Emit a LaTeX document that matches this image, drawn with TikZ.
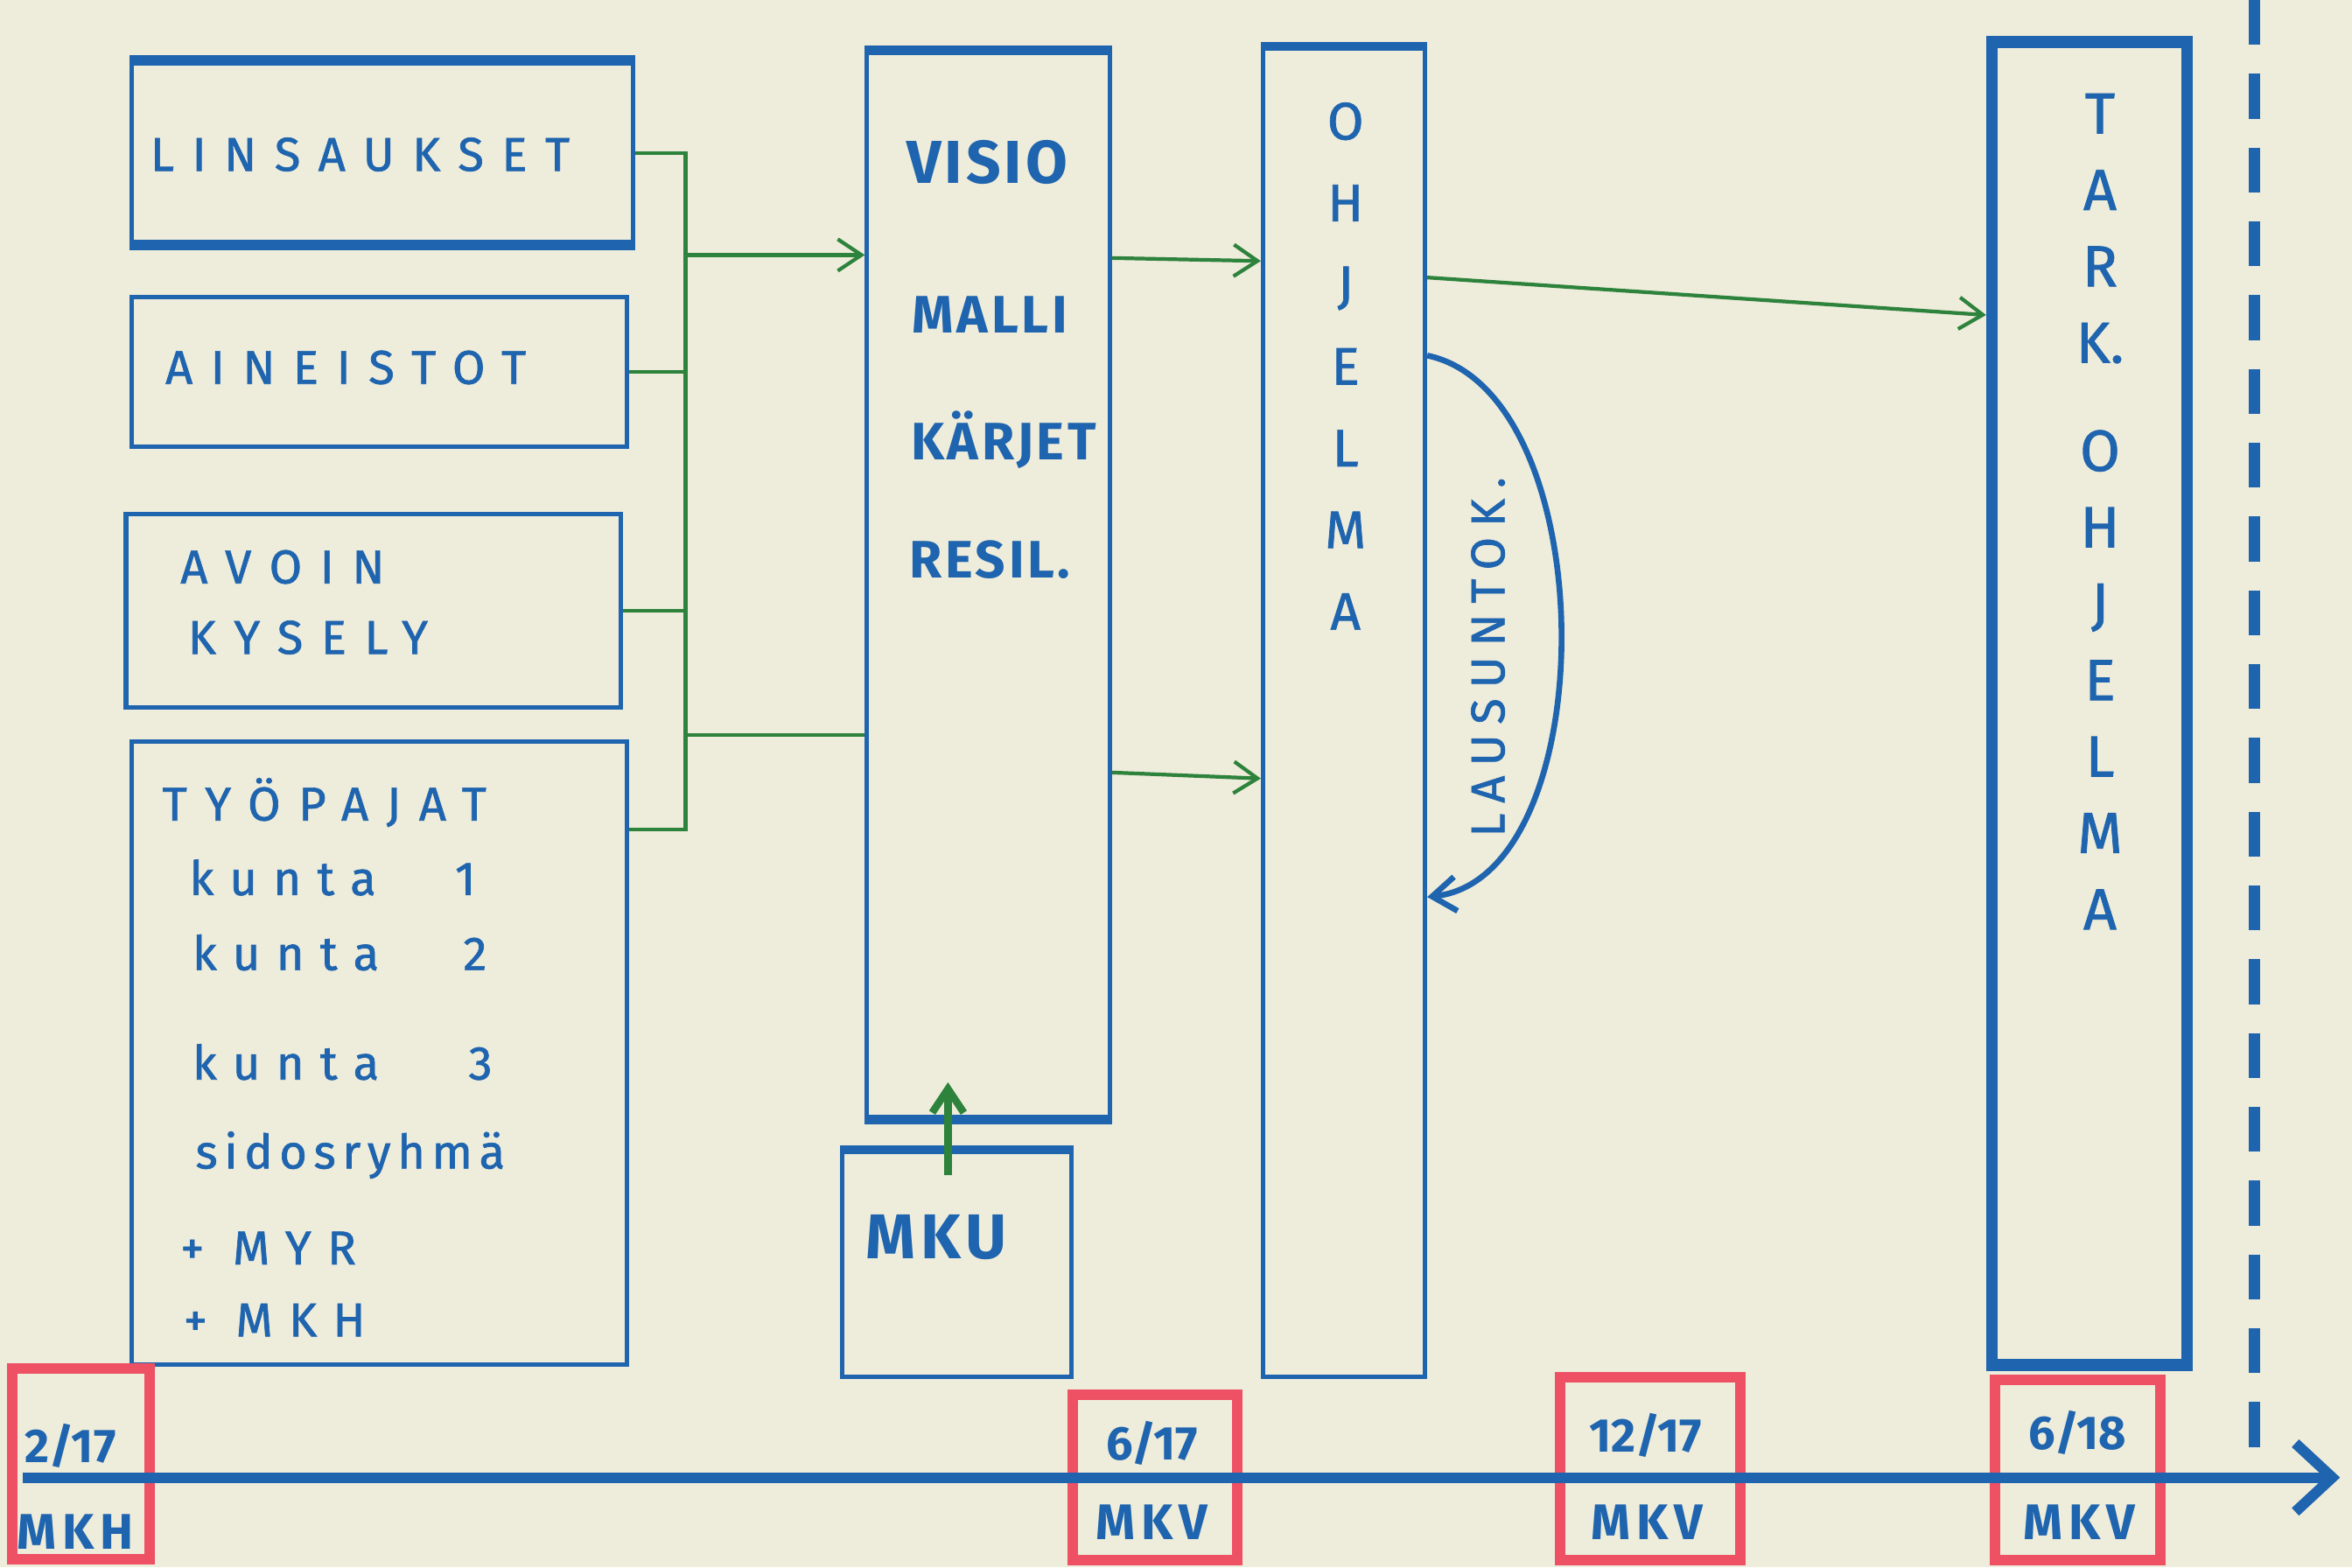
\documentclass[tikz,border=0pt]{standalone}
\usepackage{fontspec}
\setmainfont{Fira Sans}
\usetikzlibrary{arrows.meta}
\definecolor{paper}{RGB}{238,236,218}
\definecolor{pen}{RGB}{30,100,175}
\definecolor{grpen}{RGB}{45,130,60}
\definecolor{redpen}{RGB}{238,80,100}
\tikzset{box/.style = {shape = rectangle, draw = pen, line width = 1.7pt, inner sep = 0pt}}
\tikzset{thickbox/.style = {box, line width = 4.5pt}}
\tikzset{datebox/.style = {box, draw = redpen, line width = 4pt}}
\tikzset{wire/.style = {draw = grpen, line width = 1.4pt, -{Straight Barb[length=9pt,width=12pt]}}}
\tikzset{hand/.style = {text = pen, inner sep = 0pt, font = \fontsize{18}{20}\selectfont\addfontfeature{LetterSpace=38,FakeBold=1.2}}}
\tikzset{small/.style = {hand, font = \fontsize{18}{20}\selectfont\addfontfeature{LetterSpace=34,FakeBold=1.2}}}
\tikzset{bold/.style = {text = pen, inner sep = 0pt, font = \fontsize{20}{22}\selectfont\bfseries\addfontfeature{LetterSpace=6}}}
\tikzset{vert/.style = {text = pen, inner sep = 0pt, align = center, font = \fontsize{20}{31}\selectfont\addfontfeature{FakeBold=1.2}}}
\tikzset{datetxt/.style = {text = pen, inner sep = 0pt, font = \fontsize{18}{20}\selectfont\bfseries}}
\tikzset{datemk/.style = {text = pen, inner sep = 0pt, font = \fontsize{19}{21}\selectfont\bfseries\addfontfeature{LetterSpace=12}}}

\begin{document}
\begin{tikzpicture}[x=0.02cm, y=-0.02cm]
	\fill[paper] (0,0) rectangle (1568,1045);
	\useasboundingbox (0,0) rectangle (1568,1045);

	% input boxes
	\node[box, minimum width=6.68cm, minimum height=2.4cm] (linsa) at (255,102) {};
	\node[box, minimum width=6.6cm, minimum height=2cm] (aineisto) at (253,248) {};
	\node[box, minimum width=6.6cm, minimum height=2.58cm] (avoin) at (249,407) {};
	\node[box, minimum width=6.6cm, minimum height=8.3cm] (tyopaja) at (253,702) {};
	\draw[pen, line width=4pt] (linsa.north west) -- (linsa.north east);
	\draw[pen, line width=4pt] (linsa.south west) -- (linsa.south east);

	\node[hand, anchor=west] (tlinsa) at (100,103) {LINSAUKSET};
	\node[hand, anchor=west] (taineisto) at (110,245) {AINEISTOT};
	\node[hand, anchor=west] (tavoin) at (120,378) {AVOIN};
	\node[hand, anchor=west] (tkysely) at (125,425) {KYSELY};
	\node[hand, anchor=west] (ttyopaja) at (108,535) {TYÖPAJAT};
	\node[small, anchor=west] (tk1) at (126,585) {kunta\hspace{30pt}1};
	\node[small, anchor=west] (tk2) at (128,635) {kunta\hspace{32pt}2};
	\node[small, anchor=west] (tk3) at (128,708) {kunta\hspace{34pt}3};
	\node[small, anchor=west, font=\fontsize{18}{20}\selectfont\addfontfeature{LetterSpace=14,FakeBold=1.2}] (tsidos) at (130,770) {sidosryhmä};
	\node[small, anchor=west] (tmyr) at (120,832) {+ MYR};
	\node[small, anchor=west] (tmkh) at (122,880) {+ MKH};

	% middle columns
	\node[box, minimum width=3.24cm, minimum height=14.2cm] (visio) at (659,390) {};
	\node[box, minimum width=3.06cm, minimum height=3cm] (mku) at (638,843) {};
	\draw[pen, line width=3.5pt] (visio.north west) -- (visio.north east);
	\draw[pen, line width=3.5pt] (visio.south west) -- (visio.south east);
	\draw[pen, line width=3.5pt] (mku.north west) -- (mku.north east);
	\node[bold, anchor=west, font=\fontsize{23}{25}\selectfont\bfseries\addfontfeature{LetterSpace=6}] (tvisio) at (604,108) {VISIO};
	\node[bold, anchor=west] (tmalli) at (608,210) {MALLI};
	\node[bold, anchor=west] (tkarjet) at (607,293) {KÄRJET};
	\node[bold, anchor=west] (tresil) at (606,373) {RESIL.};
	\node[bold, anchor=west, font=\fontsize{24}{26}\selectfont\bfseries\addfontfeature{LetterSpace=8}] (tmku) at (577,825) {MKU};

	\node[box, minimum width=2.16cm, minimum height=17.72cm] (ohjelma) at (896,475) {};
	\draw[pen, line width=3pt] (ohjelma.north west) -- (ohjelma.north east);
	\node[vert, anchor=north] (tohjelma) at (897,68) {O\\H\\J\\E\\L\\M\\A};

	\node[thickbox, minimum width=2.6cm, minimum height=17.64cm] (tark) at (1393,469) {};
	\node[vert, anchor=north, font=\fontsize{22}{29}\selectfont\addfontfeature{FakeBold=1.2}] (ttark) at (1400,62) {T\\A\\R\\K.\\[12pt]O\\H\\J\\E\\L\\M\\A};

	% connectors
	\coordinate (bus) at (457,553);
	\coordinate (in1) at (457,170);
	\coordinate (in2) at (457,490);
	\draw[wire, -] (linsa.east) -| (bus) -- (tyopaja.east |- bus);
	\draw[wire, -] (aineisto.east) -- (aineisto.east -| bus);
	\draw[wire, -] (avoin.east) -- (avoin.east -| bus);
	\draw[wire] (in1) -- (visio.west |- in1);
	\draw[wire, -] (in2) -- (visio.west |- in2);
	\draw[wire] (visio.east |- 0,172) -- (ohjelma.west |- 0,174);
	\draw[wire] (visio.east |- 0,515) -- (ohjelma.west |- 0,519);
	\draw[wire] (ohjelma.east |- 0,185) -- (tark.west |- 0,210);
	\draw[wire, line width=2.8pt] ([xshift=-0.12cm, yshift=-0.34cm]mku.north) -- ([xshift=-0.12cm, yshift=0.9cm]mku.north);

	\draw[pen, line width=2.2pt, -{Straight Barb[length=9pt,width=13pt]}] (ohjelma.east |- 0,237) .. controls (1070,262) and (1070,585) .. (ohjelma.east |- 0,598);
	\node[hand, rotate=90, font=\fontsize{18}{20}\selectfont\addfontfeature{LetterSpace=22,FakeBold=1.2}] (tlaus) at (992,438) {LAUSUNTOK.};

	% timeline
	\node[datebox, minimum width=1.84cm, minimum height=2.54cm] (mkh) at (54,976) {};
	\node[datebox, minimum width=2.2cm, minimum height=2.2cm] (kv1) at (770,985) {};
	\node[datebox, minimum width=2.4cm, minimum height=2.44cm] (kv2) at (1100,979) {};
	\node[datebox, minimum width=2.2cm, minimum height=2.4cm] (kv3) at (1385,980) {};

	\coordinate (d0) at (1503,0);
	\coordinate (d1) at (1503,975);
	\draw[pen, line width=4.5pt, dash pattern=on 17pt off 11pt] (d0) -- (d1);

	\coordinate (t0) at (15,985);
	\coordinate (t1) at (1560,985);
	\draw[pen, line width=4pt, -{Straight Barb[length=14pt,width=26pt]}] (t0) -- (t1);

	\node[datetxt] (dmkh) at (47,964) {2/17};
	\node[datemk] (lmkh) at (50,1021) {MKH};
	\node[datetxt] (dkv1) at (768,962) {6/17};
	\node[datemk] (lkv1) at (768,1015) {MKV};
	\node[datetxt] (dkv2) at (1097,957) {12/17};
	\node[datemk] (lkv2) at (1098,1015) {MKV};
	\node[datetxt] (dkv3) at (1385,955) {6/18};
	\node[datemk] (lkv3) at (1386,1015) {MKV};
\end{tikzpicture}
\end{document}
